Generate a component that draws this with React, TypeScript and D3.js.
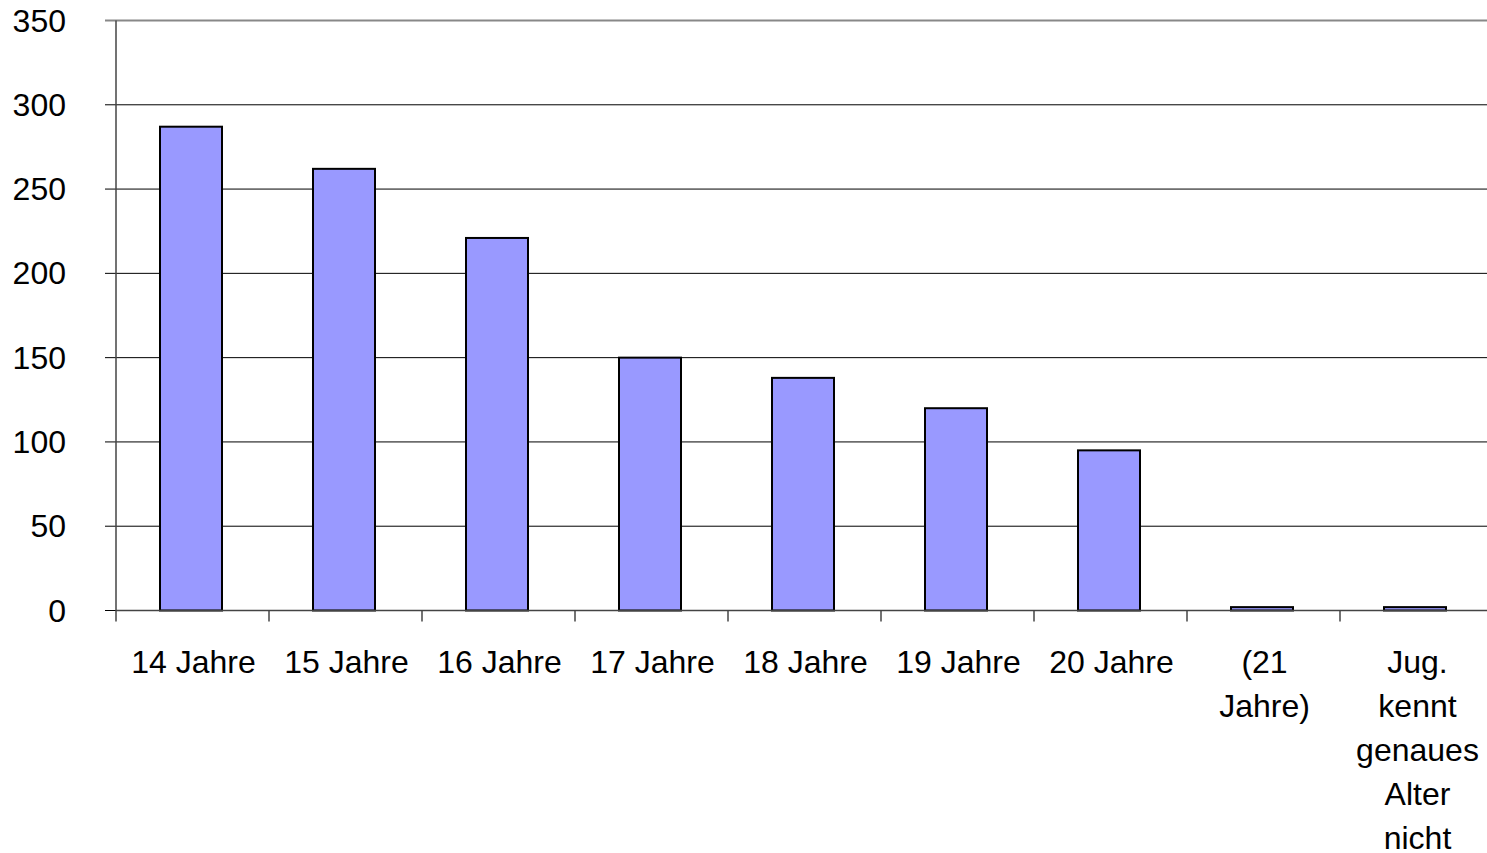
import React from "react";
import * as d3 from "d3";

const categories: string[][] = [
  ["14 Jahre"],
  ["15 Jahre"],
  ["16 Jahre"],
  ["17 Jahre"],
  ["18 Jahre"],
  ["19 Jahre"],
  ["20 Jahre"],
  ["(21", "Jahre)"],
  ["Jug.", "kennt", "genaues", "Alter", "nicht"],
];
const values: number[] = [287, 262, 221, 150, 138, 120, 95, 2, 2];
const yTicks: number[] = [0, 50, 100, 150, 200, 250, 300, 350];

export default function App() {
  const W = 1487;
  const H = 853;
  const left = 116;
  const right = 116 + 9 * 153;
  const top = 20.5;
  const bottom = 610.5;
  const keys = categories.map((c) => c.join(" "));
  const band = d3.scaleBand<string>().domain(keys).range([left, right]);
  const barW = 62;
  const y = d3.scaleLinear().domain([0, 350]).range([bottom, top]);
  const font = "'Liberation Sans', Arial, sans-serif";
  const fs = 32;
  return (
    <svg width={W} height={H} style={{ position: "absolute", left: 0, top: 0 }}>
      <rect x={0} y={0} width={W} height={H} fill="#fff" />
      {yTicks.map((t) => (
        <g key={t}>
          <line
            x1={left - 11}
            x2={right}
            y1={y(t)}
            y2={y(t)}
            stroke={t === 350 ? "#888" : "#000"}
            strokeWidth={t === 350 ? 2 : 1}
          />
          <text x={66} y={y(t)} textAnchor="end" dominantBaseline="central" fontFamily={font} fontSize={fs} fill="#000">
            {t}
          </text>
        </g>
      ))}
      {keys.map((k, i) => (
        <rect
          key={k}
          x={band(k)! + (band.bandwidth() - barW) / 2 - 1.5}
          y={y(values[i])}
          width={barW}
          height={bottom - y(values[i])}
          fill="#9999ff"
          stroke="#000"
          strokeWidth={2}
        />
      ))}
      <line x1={left} x2={left} y1={top} y2={bottom + 11} stroke="#444" strokeWidth={1.5} />
      <line x1={left} x2={right} y1={bottom} y2={bottom} stroke="#444" strokeWidth={1.5} />
      {keys.map((k) => (
        <line key={"t" + k} x1={band(k)! + band.bandwidth()} x2={band(k)! + band.bandwidth()} y1={bottom} y2={bottom + 11} stroke="#444" strokeWidth={1.5} />
      ))}
      {categories.map((lines, i) => (
        <text
          key={"l" + i}
          x={band(keys[i])! + band.bandwidth() / 2}
          y={662}
          textAnchor="middle"
          fontFamily={font}
          fontSize={fs}
          fill="#000"
        >
          {lines.map((ln, j) => (
            <tspan key={j} x={band(keys[i])! + band.bandwidth() / 2 + 1} y={662 + j * 44} dominantBaseline="central">
              {ln}
            </tspan>
          ))}
        </text>
      ))}
    </svg>
  );
}
